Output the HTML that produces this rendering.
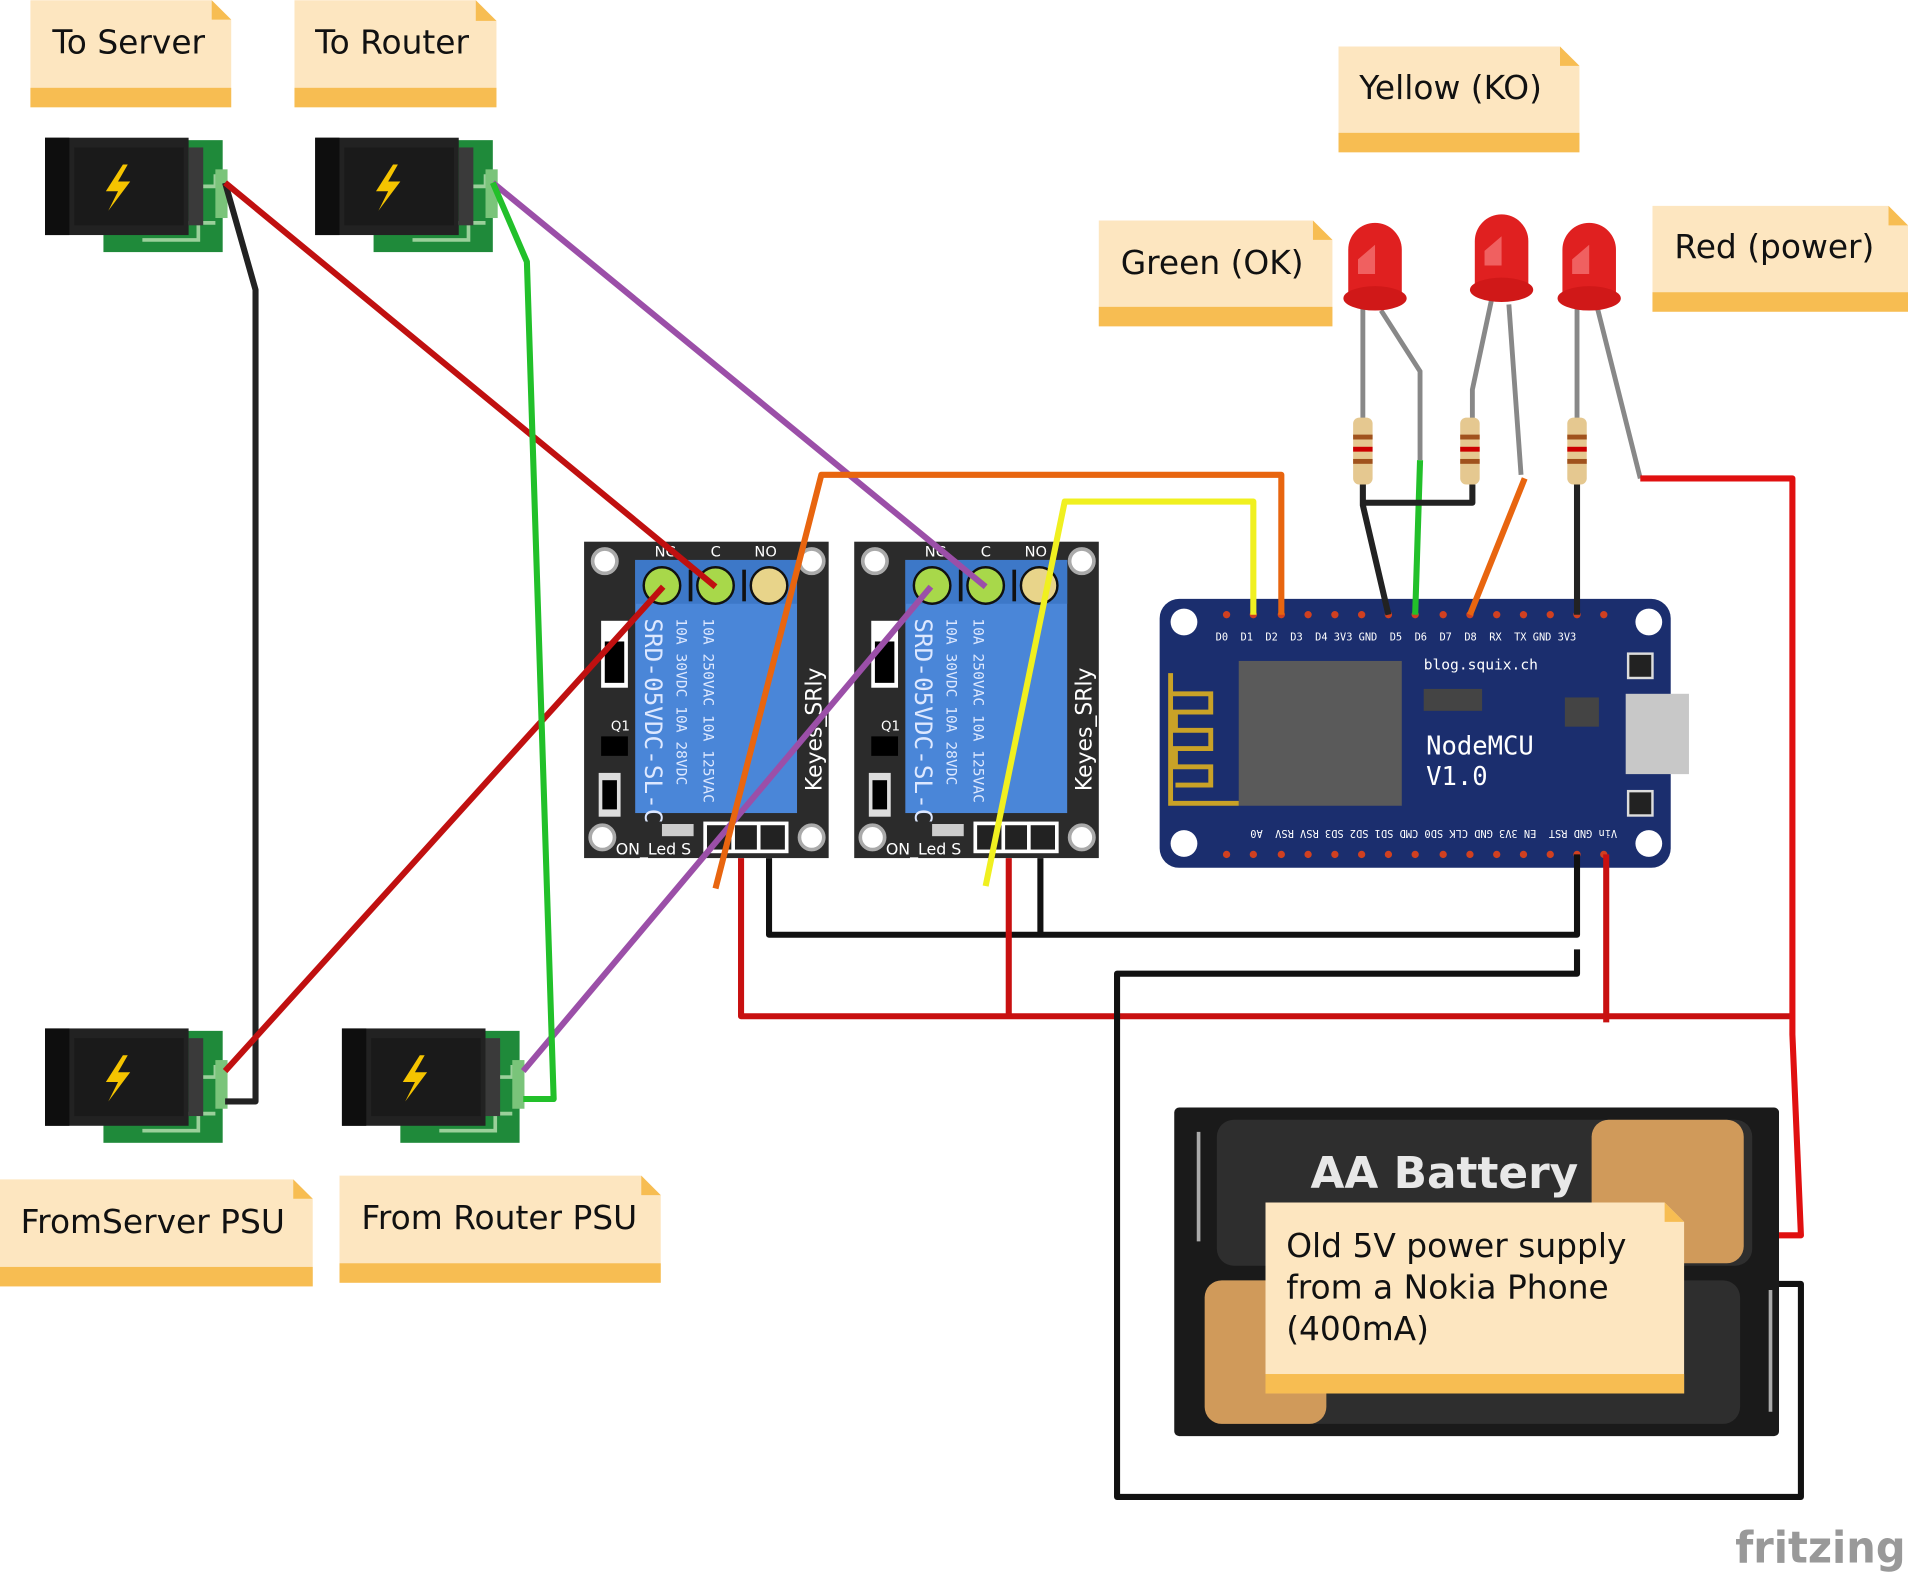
<!DOCTYPE html>
<html><head><style>html,body{margin:0;padding:0;background:#fff}svg{display:block}</style></head>
<body>
<svg width="1908" height="1575" viewBox="0 0 1568 1294" xmlns="http://www.w3.org/2000/svg" font-family="'DejaVu Sans','Liberation Sans',sans-serif">
<defs>
<g id="jack">
  <rect x="48" y="2" width="98" height="92" fill="#1f8a3a"/>
  <path d="M110 70 H126 V84 H80 M126 40 H140 V30 M126 70 H140" stroke="#9ad09a" stroke-width="3" fill="none"/>
  <rect x="0" y="0" width="118" height="80" fill="#222"/>
  <rect x="0" y="0" width="20" height="80" fill="#0e0e0e"/>
  <rect x="24" y="8" width="90" height="64" fill="#1a1a1a"/>
  <rect x="118" y="8" width="12" height="64" fill="#3a3a3a"/>
  <path d="M64 22 L50 44 H60 L52 60 L70 36 H60 L68 22Z" fill="#f5c400"/>
  <rect x="140" y="26" width="10" height="40" fill="#7ac47a"/>
</g>
<g id="relay">
  <rect x="0" y="0" width="201" height="260" fill="#2b2b2b"/>
  <circle cx="17" cy="16" r="10" fill="#fff" stroke="#aaa" stroke-width="3"/>
  <circle cx="187" cy="16" r="10" fill="#fff" stroke="#aaa" stroke-width="3"/>
  <circle cx="15" cy="243" r="10" fill="#fff" stroke="#aaa" stroke-width="3"/>
  <circle cx="187" cy="243" r="10" fill="#fff" stroke="#aaa" stroke-width="3"/>
  <rect x="42" y="15" width="133" height="208" fill="#4a86d8"/>
  <rect x="42" y="15" width="133" height="36" fill="#3d78c8"/>
  <circle cx="64" cy="36" r="15" fill="#a8d84a" stroke="#111" stroke-width="2"/>
  <circle cx="108" cy="36" r="15" fill="#a8d84a" stroke="#111" stroke-width="2"/>
  <circle cx="152" cy="36" r="15" fill="#e8d48a" stroke="#111" stroke-width="2"/>
  <rect x="86" y="23" width="3" height="26" fill="#111"/><rect x="130" y="23" width="3" height="26" fill="#111"/>
  <text x="58" y="12" fill="#fff" font-size="12">NC</text><text x="104" y="12" fill="#fff" font-size="12">C</text><text x="140" y="12" fill="#fff" font-size="12">NO</text>
  <rect x="14" y="65" width="22" height="55" fill="#fff"/><rect x="17" y="82" width="16" height="34" fill="#000"/>
  <text x="22" y="155" fill="#fff" font-size="11">Q1</text><rect x="14" y="160" width="22" height="16" fill="#000"/>
  <rect x="12" y="190" width="18" height="36" fill="#ddd"/><rect x="15" y="196" width="12" height="24" fill="#000"/>
  <text transform="translate(50,63) rotate(90)" fill="#dde8ff" font-size="20" font-family="'DejaVu Sans Mono',monospace">SRD-05VDC-SL-C</text>
  <text transform="translate(76,63) rotate(90)" fill="#dde8ff" font-size="12" font-family="'DejaVu Sans Mono',monospace">10A  30VDC  10A  28VDC</text>
  <text transform="translate(98,63) rotate(90)" fill="#dde8ff" font-size="12" font-family="'DejaVu Sans Mono',monospace">10A 250VAC  10A 125VAC</text>
  <text transform="translate(195,205) rotate(-90)" fill="#fff" font-size="18">Keyes_SRly</text>
  <rect x="64" y="232" width="26" height="10" fill="#ccc"/>
  <text x="26" y="257" fill="#fff" font-size="13">ON_Led  S</text>
  <rect x="98" y="230" width="70" height="26" fill="#fff"/><rect x="101" y="233" width="20" height="20" fill="#222"/><rect x="124" y="233" width="18" height="20" fill="#222"/><rect x="145" y="233" width="20" height="20" fill="#222"/>
</g>
<g id="led">
  <path d="M-22 0 A22 22 0 0 1 22 0 V36 H-22Z" fill="#e02020"/>
  <ellipse cx="0" cy="40" rx="26" ry="10" fill="#d01818"/>
  <path d="M-14 8 L0 -4 V20 H-14Z" fill="#f06060"/>
</g>
<g id="res">
  <rect x="-8" y="0" width="16" height="55" rx="5" fill="#e5c890"/>
  <rect x="-8" y="14" width="16" height="4" fill="#a0521d"/><rect x="-8" y="24" width="16" height="4" fill="#c00"/><rect x="-8" y="34" width="16" height="4" fill="#a0521d"/>
</g>
</defs>

<g font-size="27" fill="#111">
<g><path d="M25 0 H174 L190 16 V88 H25Z" fill="#fde6c0"/><rect x="25" y="72" width="165" height="16" fill="#f7bd52"/><path d="M174 0 V16 H190Z" fill="#f7bd52"/><text x="43" y="44">To Server</text></g>
<g><path d="M242 0 H391 L408 17 V88 H242Z" fill="#fde6c0"/><rect x="242" y="72" width="166" height="16" fill="#f7bd52"/><path d="M391 0 V17 H408Z" fill="#f7bd52"/><text x="259" y="44">To Router</text></g>
<g><path d="M1100 38 H1282 L1298 54 V125 H1100Z" fill="#fde6c0"/><rect x="1100" y="109" width="198" height="16" fill="#f7bd52"/><path d="M1282 38 V54 H1298Z" fill="#f7bd52"/><text x="1117" y="81">Yellow (KO)</text></g>
<g><path d="M903 181 H1079 L1095 197 V268 H903Z" fill="#fde6c0"/><rect x="903" y="252" width="192" height="16" fill="#f7bd52"/><path d="M1079 181 V197 H1095Z" fill="#f7bd52"/><text x="921" y="225">Green (OK)</text></g>
<g><path d="M1358 169 H1552 L1568 185 V256 H1358Z" fill="#fde6c0"/><rect x="1358" y="240" width="210" height="16" fill="#f7bd52"/><path d="M1552 169 V185 H1568Z" fill="#f7bd52"/><text x="1376" y="212">Red (power)</text></g>
<g><path d="M0 969 H241 L257 985 V1057 H0Z" fill="#fde6c0"/><rect x="0" y="1041" width="257" height="16" fill="#f7bd52"/><path d="M241 969 V985 H257Z" fill="#f7bd52"/><text x="17" y="1013">FromServer PSU</text></g>
<g><path d="M279 966 H527 L543 982 V1054 H279Z" fill="#fde6c0"/><rect x="279" y="1038" width="264" height="16" fill="#f7bd52"/><path d="M527 966 V982 H543Z" fill="#f7bd52"/><text x="297" y="1010">From Router PSU</text></g>
</g>

<use href="#jack" x="37" y="113"/>
<use href="#jack" x="259" y="113"/>
<use href="#jack" x="37" y="845"/>
<use href="#jack" x="281" y="845"/>

<use href="#relay" x="480" y="445"/>
<use href="#relay" x="702" y="445"/>

<rect x="953" y="492" width="420" height="221" rx="16" fill="#1b2e6e"/>
<rect x="1336" y="570" width="52" height="66" fill="#c8c8c8"/>
<circle cx="973" cy="511" r="11" fill="#fff"/><circle cx="1355" cy="511" r="11" fill="#fff"/>
<circle cx="973" cy="693" r="11" fill="#fff"/><circle cx="1355" cy="693" r="11" fill="#fff"/>
<rect x="1018" y="543" width="134" height="119" fill="#5a5a5a"/>
<path d="M962 553 V660 H1018 M962 570 H995 V585 H966 V600 H995 V615 H966 V630 H995 V645 H966" stroke="#c9a227" stroke-width="4" fill="none"/>
<rect x="1170" y="566" width="48" height="18" fill="#444"/><rect x="1286" y="573" width="28" height="24" fill="#444"/>
<rect x="1338" y="537" width="20" height="20" fill="#222" stroke="#ddd" stroke-width="2"/><rect x="1338" y="650" width="20" height="20" fill="#222" stroke="#ddd" stroke-width="2"/>
<text x="1170" y="550" fill="#fff" font-size="12" font-family="'DejaVu Sans Mono',monospace">blog.squix.ch</text>
<text x="1172" y="620" fill="#fff" font-size="21" font-family="'DejaVu Sans Mono',monospace">NodeMCU</text>
<text x="1172" y="645" fill="#fff" font-size="21" font-family="'DejaVu Sans Mono',monospace">V1.0</text>
<text x="999" y="526" fill="#fff" font-size="8.5" font-family="'DejaVu Sans Mono',monospace" xml:space="preserve">D0  D1  D2  D3  D4 3V3 GND  D5  D6  D7  D8  RX  TX GND 3V3</text>
<text transform="translate(1329,682) rotate(180)" fill="#fff" font-size="8.5" font-family="'DejaVu Sans Mono',monospace" xml:space="preserve">Vin GND RST  EN 3V3 GND CLK SD0 CMD SD1 SD2 SD3 RSV RSV  A0</text>
<g fill="#d04020">
<circle cx="1008" cy="505" r="3"/><circle cx="1030" cy="505" r="3"/><circle cx="1053" cy="505" r="3"/><circle cx="1075" cy="505" r="3"/><circle cx="1097" cy="505" r="3"/><circle cx="1119" cy="505" r="3"/><circle cx="1141" cy="505" r="3"/><circle cx="1163" cy="505" r="3"/><circle cx="1186" cy="505" r="3"/><circle cx="1208" cy="505" r="3"/><circle cx="1230" cy="505" r="3"/><circle cx="1252" cy="505" r="3"/><circle cx="1274" cy="505" r="3"/><circle cx="1296" cy="505" r="3"/><circle cx="1318" cy="505" r="3"/>
<circle cx="1008" cy="702" r="3"/><circle cx="1030" cy="702" r="3"/><circle cx="1053" cy="702" r="3"/><circle cx="1075" cy="702" r="3"/><circle cx="1097" cy="702" r="3"/><circle cx="1119" cy="702" r="3"/><circle cx="1141" cy="702" r="3"/><circle cx="1163" cy="702" r="3"/><circle cx="1186" cy="702" r="3"/><circle cx="1208" cy="702" r="3"/><circle cx="1230" cy="702" r="3"/><circle cx="1252" cy="702" r="3"/><circle cx="1274" cy="702" r="3"/><circle cx="1296" cy="702" r="3"/><circle cx="1318" cy="702" r="3"/>
</g>

<rect x="965" y="910" width="497" height="270" rx="4" fill="#1a1a1a"/>
<rect x="1000" y="920" width="440" height="120" rx="14" fill="#2e2e2e"/>
<rect x="1308" y="920" width="125" height="118" rx="14" fill="#d09a5a"/>
<rect x="990" y="1052" width="440" height="118" rx="14" fill="#2e2e2e"/>
<rect x="990" y="1052" width="100" height="118" rx="14" fill="#d09a5a"/>
<text x="1077" y="976" fill="#e8e8e8" font-size="36" font-weight="bold">AA Battery</text>
<path d="M985 930 V1020 M1455 1060 V1160" stroke="#aaa" stroke-width="3"/>
<g><path d="M1040 988 H1368 L1384 1004 V1145 H1040Z" fill="#fde6c0"/><rect x="1040" y="1129" width="344" height="16" fill="#f7bd52"/><path d="M1368 988 V1004 H1384Z" fill="#f7bd52"/>
<text font-size="27" fill="#111"><tspan x="1057" y="1033">Old 5V power supply</tspan><tspan x="1057" y="1067">from a Nokia Phone</tspan><tspan x="1057" y="1101">(400mA)</tspan></text></g>

<g stroke="#888" stroke-width="4" fill="none">
<path d="M1120 250 V345 M1135 255 L1167 305 V378"/>
<path d="M1226 245 L1210 320 V345 M1240 250 L1250 390"/>
<path d="M1296 245 V345 M1312 250 L1348 393"/>
</g>
<use href="#led" x="1130" y="205"/>
<use href="#led" x="1234" y="198"/>
<use href="#led" x="1306" y="205"/>
<use href="#res" x="1120" y="343"/>
<use href="#res" x="1208" y="343"/>
<use href="#res" x="1296" y="343"/>

<g fill="none" stroke-width="5" stroke-linejoin="round">
<path d="M185 150 L210 238 V905 H185" stroke="#222"/>
<path d="M185 150 L588 482" stroke="#c01010"/>
<path d="M185 880 L545 482" stroke="#c01010"/>
<path d="M405 150 L810 482" stroke="#9b4fa8"/>
<path d="M430 880 L765 482" stroke="#9b4fa8"/>
<path d="M405 150 L433 215 L455 903 H430" stroke="#22c02a"/>
<path d="M588 730 L675 390 H1053 V505" stroke="#e8650f"/>
<path d="M1208 505 L1253 393" stroke="#e8650f"/>
<path d="M810 728 L875 412 H1030 V505" stroke="#f0f020"/>
<path d="M632 705 V768 H1296 V702 M855 705 V768" stroke="#111"/>
<path d="M609 705 V835 H1473 M829 705 V835 M1320 702 V840" stroke="#c81010"/>
<path d="M1348 393 H1473 V850 L1480 1015 H1462" stroke="#e01010"/>
<path d="M1296 780 V800 H918 V1230 H1480 V1055 H1462" stroke="#111"/>
<path d="M1167 378 L1163 505" stroke="#22c02a"/>
<path d="M1120 398 V415 L1141 505 M1120 413 H1210 V398 M1296 398 V505" stroke="#222"/>
</g>

<text x="1426" y="1284" fill="#999" font-size="36" font-weight="bold" textLength="140" lengthAdjust="spacingAndGlyphs">fritzing</text>
</svg>
</body></html>
